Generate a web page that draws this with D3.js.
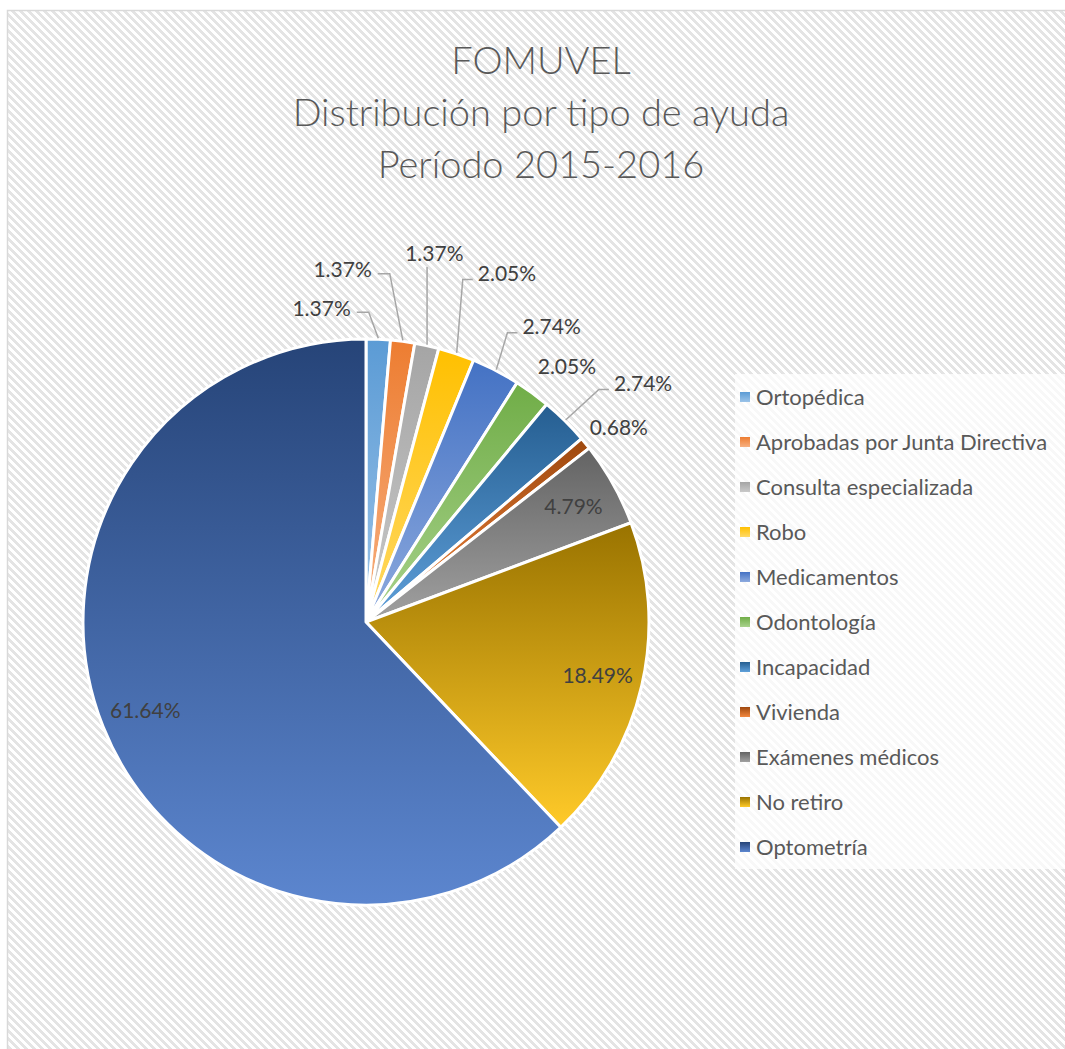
<!DOCTYPE html>
<html>
<head>
<meta charset="utf-8">
<script src="https://cdn.jsdelivr.net/npm/d3@7"></script>
<style>
  body { margin: 0; background: #fff; }
  svg { display: block; font-family: Lato, "Open Sans", sans-serif; }
</style>
</head>
<body>
<svg id="chart" width="1065" height="1049"></svg>
<script>
// data
const categories = ["Ortopédica", "Aprobadas por Junta Directiva", "Consulta especializada", "Robo",
  "Medicamentos", "Odontología", "Incapacidad", "Vivienda", "Exámenes médicos", "No retiro", "Optometría"];
const percents = [1.37, 1.37, 1.37, 2.05, 2.74, 2.05, 2.74, 0.68, 4.79, 18.49, 61.64];
const colors = ["#5B9BD5", "#ED7D31", "#A5A5A5", "#FFC000", "#4472C4", "#70AD47",
  "#255E91", "#9E480E", "#636363", "#997300", "#264478"];
const titleLines = ["FOMUVEL", "Distribución por tipo de ayuda", "Período 2015-2016"];

// label placement: nudge from outer position, draw leader?  (null = inside label)
const labelNudge = [[-58, -1, true], [-64, -42, true], [1, -63, true], [41, -52, true], [42, -17, true],
  [17, -2, false], [57, -16, true], [10, 2.5, false], null, null, null];

const W = 1065, H = 1049;
const cx = 366, cy = 622, R = 283;

const svg = d3.select("#chart");
const defs = svg.append("defs");

// hatch background (downward diagonal)
const pat = defs.append("pattern")
  .attr("id", "hatch")
  .attr("width", 8).attr("height", 8)
  .attr("patternUnits", "userSpaceOnUse");
pat.append("rect").attr("width", 8).attr("height", 8).attr("fill", "#fff");
for (let x = 0; x < 8; x++) {
  for (let y = 0; y < 8; y++) {
    if (((x - y) % 8 + 8) % 8 < 4) {
      pat.append("rect").attr("x", x).attr("y", y).attr("width", 1).attr("height", 1)
        .attr("fill", "#e4e4e4").attr("shape-rendering", "crispEdges");
    }
  }
}

// gradients per slice
colors.forEach((c, i) => {
  const hsl = d3.hsl(c);
  const light = d3.hsl(hsl.h, Math.min(1, hsl.s * 1.05), hsl.l + (1 - hsl.l) * 0.4);
  const g = defs.append("linearGradient")
    .attr("id", "grad" + i)
    .attr("x1", 0).attr("y1", 0).attr("x2", 0).attr("y2", 1);
  g.append("stop").attr("offset", "0%").attr("stop-color", c);
  g.append("stop").attr("offset", "100%").attr("stop-color", light.formatHex());
});

svg.append("rect")
  .attr("x", 7.5).attr("y", 10.5)
  .attr("width", W + 10).attr("height", H + 10)
  .attr("fill", "url(#hatch)")
  .attr("stroke", "#d9d9d9")
  .attr("stroke-width", 1.5);

// title
svg.append("g")
  .selectAll("text")
  .data(titleLines)
  .join("text")
  .attr("x", 541)
  .attr("y", (d, i) => 74 + i * 52)
  .attr("text-anchor", "middle")
  .attr("fill", "#595959")
  .attr("font-size", 38)
  .attr("font-weight", 300)
  .text(d => d);

// pie
const pie = d3.pie().sort(null).value(d => d);
const arcs = pie(percents);
const arc = d3.arc().innerRadius(0).outerRadius(R);

const g = svg.append("g").attr("transform", `translate(${cx},${cy})`);

g.selectAll("path.slice")
  .data(arcs)
  .join("path")
  .attr("class", "slice")
  .attr("d", arc)
  .attr("fill", (d, i) => `url(#grad${i})`)
  .attr("stroke", "#fff")
  .attr("stroke-width", 3)
  .attr("stroke-linejoin", "round");

// labels
const fmt = d => d.toFixed(2) + "%";
const fs = 21;
const outerArc = d3.arc().innerRadius(R + 30).outerRadius(R + 30);
const innerArc = d3.arc().innerRadius(R * 0.84).outerRadius(R * 0.84);
const edgeArc = d3.arc().innerRadius(R + 1).outerRadius(R + 1);

const labelG = g.append("g");
arcs.forEach((a, i) => {
  const n = labelNudge[i];
  let p;
  if (n) {
    const c = outerArc.centroid(a);
    p = [c[0] + n[0], c[1] + n[1]];
  } else {
    p = innerArc.centroid(a);
  }
  const t = labelG.append("text")
    .attr("x", p[0])
    .attr("y", p[1] + fs * 0.36)
    .attr("text-anchor", "middle")
    .attr("fill", "#404040")
    .attr("font-size", fs)
    .text(fmt(percents[i]));

  if (n && n[2]) {
    const bb = t.node().getBBox();
    const anchor = edgeArc.centroid(a);
    let pts;
    if (Math.abs(p[0] - anchor[0]) < 12) {
      pts = [[anchor[0], bb.y + bb.height + 2], anchor];
    } else if (p[0] < anchor[0]) {
      const end = [bb.x + bb.width + 6, p[1] + 4];
      pts = [end, [end[0] + 12, end[1]], anchor];
    } else {
      const end = [bb.x - 5, p[1] + 6];
      pts = [end, [end[0] - 10, end[1]], anchor];
    }
    labelG.append("path")
      .attr("d", d3.line()(pts))
      .attr("fill", "none")
      .attr("stroke", "#a6a6a6")
      .attr("stroke-width", 1.5);
  }
});

// legend
const lg = svg.append("g");
lg.append("rect")
  .attr("x", 735).attr("y", 374)
  .attr("width", 340).attr("height", 495)
  .attr("fill", "#fff")
  .attr("opacity", 0.75);

const rowY = d3.scalePoint().domain(categories).range([397, 847]);

const item = lg.selectAll("g.item")
  .data(categories)
  .join("g")
  .attr("class", "item")
  .attr("transform", d => `translate(0,${rowY(d)})`);

item.append("rect")
  .attr("x", 740).attr("y", -5)
  .attr("width", 10).attr("height", 10)
  .attr("fill", (d, i) => `url(#grad${i})`);

item.append("text")
  .attr("x", 756)
  .attr("y", 8)
  .attr("fill", "#595959")
  .attr("font-size", 22)
  .text(d => d);
</script>
</body>
</html>
